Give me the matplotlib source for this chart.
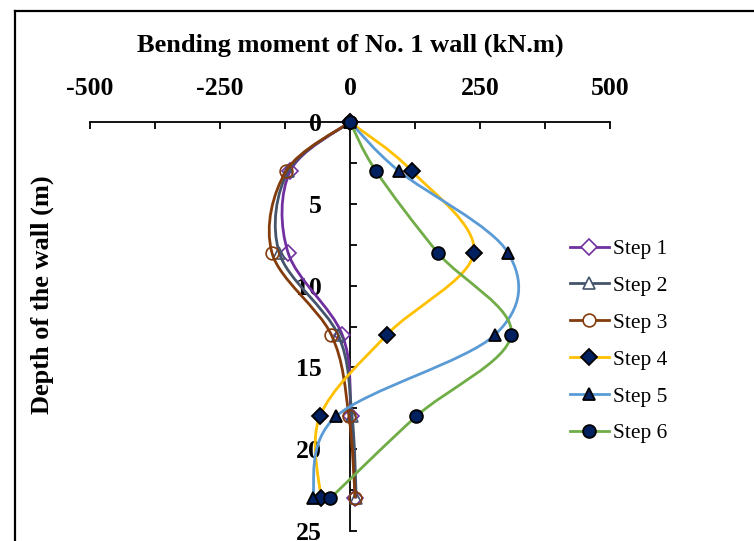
import matplotlib
matplotlib.use("Agg")
import matplotlib.pyplot as plt
from matplotlib.path import Path
from matplotlib.patches import PathPatch
from matplotlib.lines import Line2D
import numpy as np

plt.rcParams['font.family'] = ['Liberation Serif', 'DejaVu Serif']
plt.rcParams['axes.unicode_minus'] = False

depth = [0, 3, 8, 13, 18, 23]
step1 = [0, -115, -119, -15, 2, 10]
step2 = [0, -119, -136, -23, 4, 12]
step3 = [0, -123, -150, -36, -2, 10]
step4 = [0, 119, 238, 71, -58, -56]
step5 = [0, 94, 304, 279, -27, -72]
step6 = [0, 50, 169, 310, 127, -38]

labels = ["Step 1", "Step 2", "Step 3", "Step 4", "Step 5", "Step 6"]
series = [step1, step2, step3, step4, step5, step6]
colors = ["#7030A0", "#44546A", "#843C0C", "#FFC000", "#5B9BD5", "#70AD47"]
markers = ["D", "^", "o", "D", "^", "o"]
navy = "#002060"

fig = plt.figure(figsize=(7.54, 5.41), dpi=100)
ax = fig.add_axes([90/754, 1-531/541, 520/754, (531-122)/541])
ax.set_xlim(-500, 500)
ax.set_ylim(25, 0)


def smooth_path(xs, ys):
    pts = np.column_stack([xs, ys]).astype(float)
    n = len(pts)
    verts = [pts[0]]
    codes = [Path.MOVETO]
    for i in range(n - 1):
        p0 = pts[i - 1] if i > 0 else pts[i]
        p1 = pts[i]
        p2 = pts[i + 1]
        p3 = pts[i + 2] if i + 2 < n else pts[i + 1]
        c1 = p1 + (p2 - p0) / 6.0
        c2 = p2 - (p3 - p1) / 6.0
        verts += [c1, c2, p2]
        codes += [Path.CURVE4] * 3
    return Path(verts, codes)


handles = []
for k, (vals, lab, col, mk) in enumerate(zip(series, labels, colors, markers)):
    z = 3 + k
    patch = PathPatch(smooth_path(vals, depth), facecolor='none', edgecolor=col,
                      lw=2.0, zorder=z, transform=ax.transData, clip_on=False)
    ax.add_patch(patch)
    ms = 7.8 if mk == 'D' else 9.2
    if k < 3:
        mfc, mec, mew = 'none', col, 1.2
    else:
        mfc, mec, mew = navy, 'black', 1.3
    ax.plot(vals, depth, linestyle='none', marker=mk, markersize=ms,
            markerfacecolor=mfc, markeredgecolor=mec, markeredgewidth=mew,
            zorder=z + 0.5, clip_on=False)
    handles.append(Line2D([], [], color=col, lw=2.0, marker=mk, markersize=ms,
                          markerfacecolor=('white' if k < 3 else navy),
                          markeredgecolor=mec, markeredgewidth=mew, label=lab))

# spines
ax.spines['right'].set_visible(False)
ax.spines['bottom'].set_visible(False)
ax.spines['left'].set_position(('data', 0))
for s in ('top', 'left'):
    ax.spines[s].set_linewidth(1.3)
    ax.spines[s].set_zorder(2)

ax.xaxis.set_ticks_position('top')
ax.xaxis.set_label_position('top')
ax.set_xticks([-500, -250, 0, 250, 500])
ax.set_xticks([-375, -125, 125, 375], minor=True)
ax.set_yticks([0, 5, 10, 15, 20, 25])
ax.set_yticks([2.5, 7.5, 12.5, 17.5, 22.5], minor=True)
ax.tick_params(axis='x', which='both', direction='in', length=5, width=1.3,
               pad=16, labelsize=18.5)
ax.tick_params(axis='y', which='both', direction='in', length=5, width=1.3,
               pad=20, labelsize=18.5)
for t in ax.get_xticklabels() + ax.get_yticklabels():
    t.set_fontweight('bold')

fig.text(350/754, 1-45/541, "Bending moment of No. 1 wall (kN.m)", ha='center',
         va='center', fontsize=19, fontweight='bold')
fig.text(42/754, 1-295/541, "Depth of the wall (m)", ha='center', va='center',
         rotation=90, fontsize=19, fontweight='bold')

leg = fig.legend(handles=handles, loc='upper left',
                 bbox_to_anchor=(570/754, 1-239/541), frameon=False,
                 fontsize=15.5, labelspacing=0.78, handlelength=1.8,
                 handletextpad=0.2, borderaxespad=0, borderpad=0)

# outer frame
fig.add_artist(Line2D([15/754, 15/754], [-0.1, 1-11/541], color='black', lw=1.6,
                      transform=fig.transFigure))
fig.add_artist(Line2D([15/754, 1.1], [1-11/541, 1-11/541], color='black', lw=1.6,
                      transform=fig.transFigure))

fig.savefig("out.png", dpi=100)
